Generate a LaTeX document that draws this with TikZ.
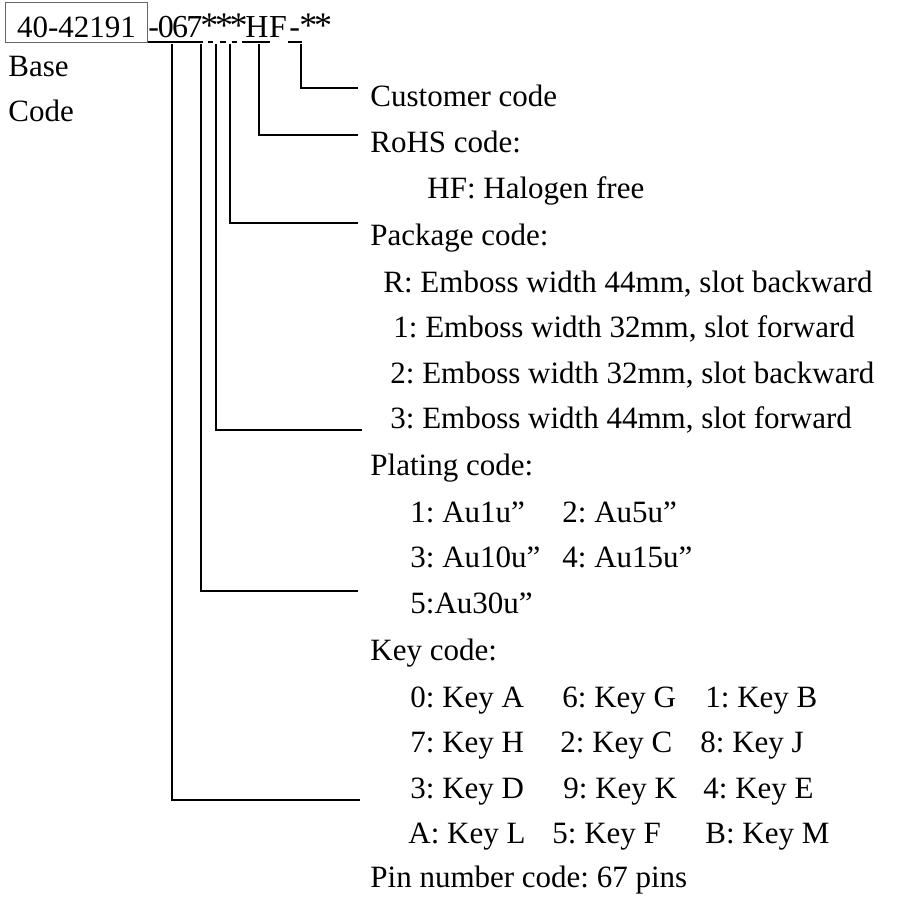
\documentclass[tikz,border=0pt]{standalone}
\usepackage{fontspec}
\setmainfont{Liberation Serif}
\usetikzlibrary{calc}

\newcommand\pnstar{{\fontsize{18}{18}\selectfont *}}

\begin{document}
\frenchspacing
\begin{tikzpicture}[
  x=0.5pt, y=-0.5pt,
  font=\fontsize{15.5}{18}\selectfont,
  txt/.style    ={anchor=base west, inner sep=0pt},
  pn/.style     ={txt, font=\fontsize{16}{18}\selectfont},
  codebox/.style={anchor=base west, draw=black!60, line width=0.5pt, inner xsep=5.8pt, inner ysep=2pt},
  uline/.style  ={line width=0.6pt},
  lead/.style   ={line width=0.9pt},
]
\useasboundingbox (0,0) rectangle (896,899);

% ---------- part number ----------
\node[codebox] (basecode) at (5,37.7) {\rule{0pt}{15.5pt}40-42191};
\node[pn] (pinpart)  at (148,37.7) {-\kern-0.6pt0\kern-0.9pt6\kern-0.9pt7};
\node[pn] (starpart) at (200,37.7) {\pnstar\kern-1.7pt\pnstar\kern-1.7pt\pnstar};
\node[pn] (hfpart)   at (245,37.7) {H\kern0.3ptF};
\node[pn] (custpart) at (289,37.7) {-\kern-0.3pt\pnstar\kern-1.7pt\pnstar};
\node[txt] (baselbl)  at (8,77)  {Base};
\node[txt] (codelbl)  at (8,122) {Code};

% underline pieces
\draw[uline] (148,42) -- (203,42);
\draw[uline] (208,42) -- (213,42);
\draw[uline] (220,42) -- (226,42);
\draw[uline] (232,42) -- (237,42);
\draw[uline] (242,42) -- (270,42);
\draw[uline] (288,42) -- (302,42);

% ---------- labels ----------
\node[txt] (cust)  at (370,107) {Customer code};
\node[txt] (rohs)  at (370,153) {RoHS code:};
\node[txt] (rohsA) at (427,198) {HF: Halogen free};
\node[txt] (pkg)   at (370,245) {Package code:};
\node[txt] (pkgR)  at (383,292) {R: Emboss width 44mm, slot backward};
\node[txt] (pkg1)  at (393,337) {1: Emboss width 32mm, slot forward};
\node[txt] (pkg2)  at (390,383) {2: Emboss width 32mm, slot backward};
\node[txt] (pkg3)  at (390,428) {3: Emboss width 44mm, slot forward};
\node[txt] (plat)  at (370,475) {Plating code:};
\node[txt] (plat1) at (410,522) {1: Au1u”};
\node[txt] (plat2) at (562,522) {2: Au5u”};
\node[txt] (plat3) at (410,567) {3: Au10u”};
\node[txt] (plat4) at (562,567) {4: Au15u”};
\node[txt] (plat5) at (410,613) {5:Au30u”};
\node[txt] (key)   at (370,660) {Key code:};
\node[txt] (key0)  at (410,707) {0: Key A};
\node[txt] (key6)  at (562,707) {6: Key G};
\node[txt] (key1)  at (705,707) {1: Key B};
\node[txt] (key7)  at (410,752) {7: Key H};
\node[txt] (key2)  at (560,752) {2: Key C};
\node[txt] (key8)  at (700,752) {8: Key J};
\node[txt] (key3)  at (410,798) {3: Key D};
\node[txt] (key9)  at (563,798) {9: Key K};
\node[txt] (key4)  at (703,798) {4: Key E};
\node[txt] (keyA)  at (408,843) {A: Key L};
\node[txt] (key5)  at (552,843) {5: Key F};
\node[txt] (keyB)  at (705,843) {B: Key M};
\node[txt] (pin)   at (370,887) {Pin number code: 67 pins};

% ---------- leaders ----------
\coordinate (custTap) at (301,44);  \coordinate (custEnd) at (358,88);
\coordinate (rohsTap) at (259,44);  \coordinate (rohsEnd) at (358,135);
\coordinate (pkgTap)  at (230,44);  \coordinate (pkgEnd)  at (358,223);
\coordinate (platTap) at (216,44);  \coordinate (platEnd) at (362,430);
\coordinate (keyTap)  at (201,44);  \coordinate (keyEnd)  at (358,591);
\coordinate (pinTap)  at (172,44);  \coordinate (pinEnd)  at (360,800);
\draw[lead] (custTap) |- (custEnd);
\draw[lead] (rohsTap) |- (rohsEnd);
\draw[lead] (pkgTap)  |- (pkgEnd);
\draw[lead] (platTap) |- (platEnd);
\draw[lead] (keyTap)  |- (keyEnd);
\draw[lead] (pinTap)  |- (pinEnd);

\end{tikzpicture}
\end{document}
